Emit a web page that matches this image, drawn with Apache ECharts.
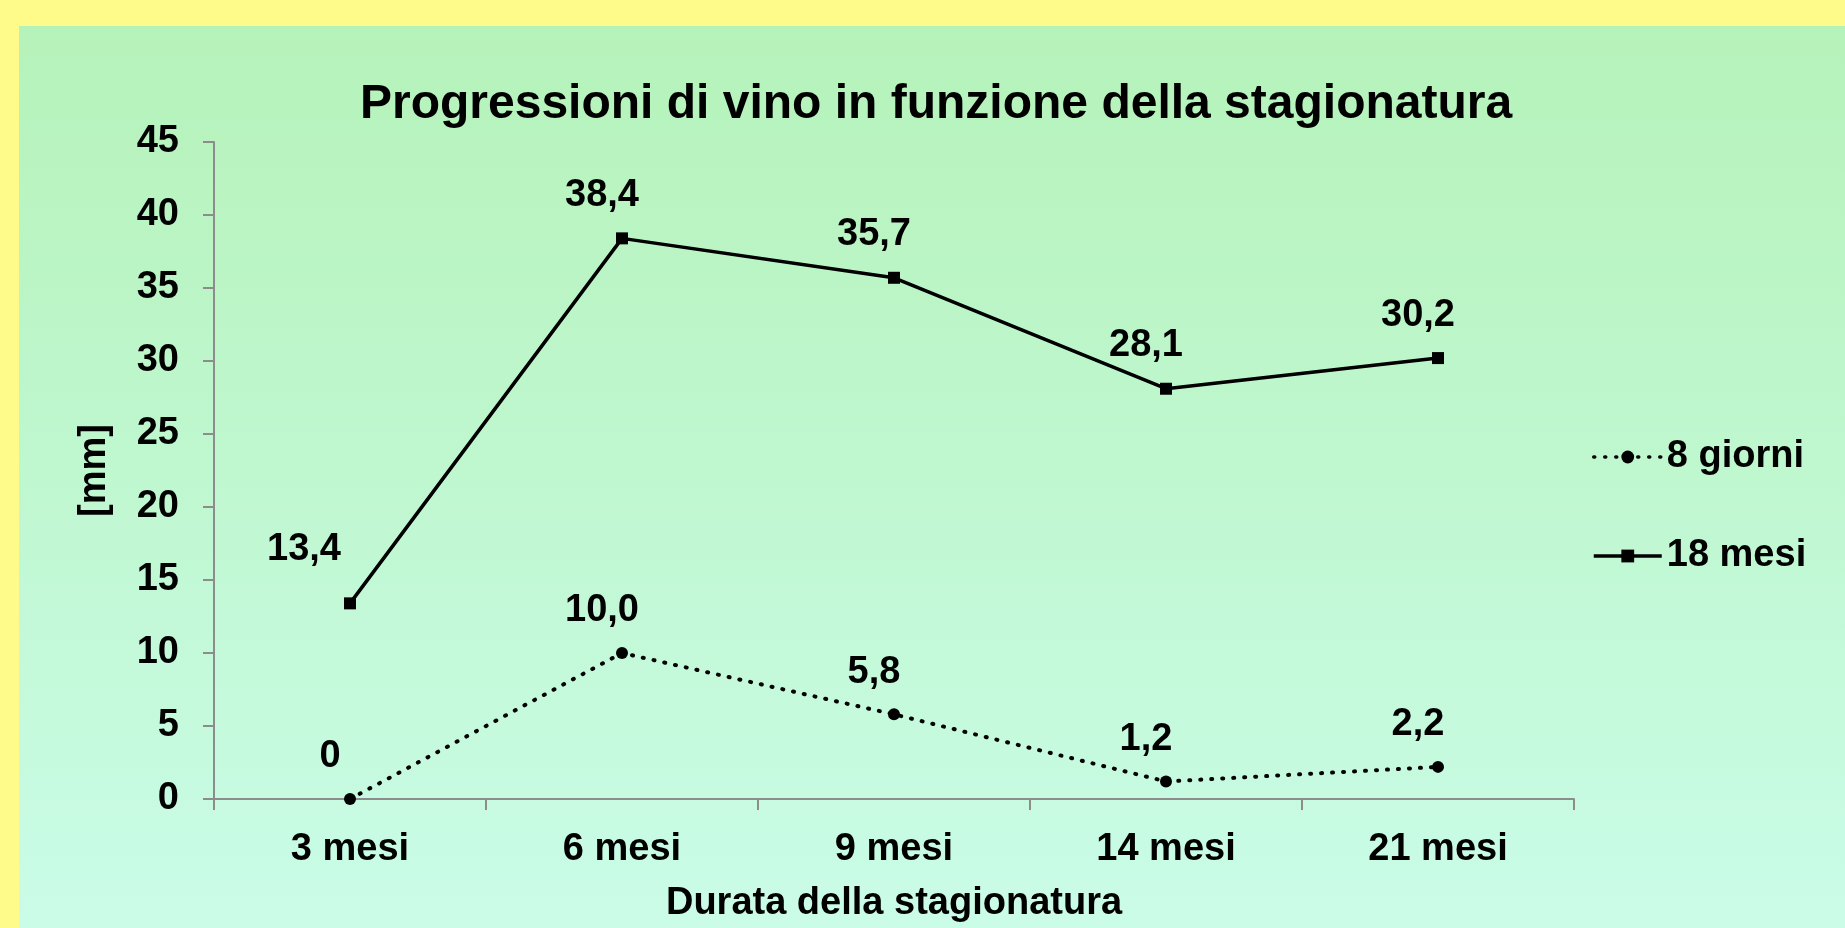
<!DOCTYPE html>
<html>
<head>
	<meta charset="utf-8">
	<title>Progressioni di vino</title>
	<script src="https://cdn.jsdelivr.net/npm/echarts@6/dist/echarts.min.js"></script>
	<style>
		html, body {
			margin: 0;
			padding: 0;
		}
		#progressioni {
			width: 1845px;
			height: 928px;
		}
	</style>
</head>
<body>
	<div id="progressioni"></div>
	<script>
		let categories = ['3 mesi', '6 mesi', '9 mesi', '14 mesi', '21 mesi']
		let giorni8 = [0, 10.0, 5.8, 1.2, 2.2]
		let mesi18 = [13.4, 38.4, 35.7, 28.1, 30.2]
		let yTicks = [0, 5, 10, 15, 20, 25, 30, 35, 40, 45]

		let font = '"Liberation Sans", Arial, sans-serif'
		let axisGrey = '#8c8c8c'

		// valori con la virgola come nel grafico originale
		function virgola(v) {
			return v === 0 ? '0' : v.toFixed(1).replace('.', ',')
		}

		function etichetta(offset) {
			return {
				show: true,
				position: 'top',
				distance: 5,
				offset: offset,
				formatter: (p) => virgola(p.value),
				color: '#000',
				fontSize: 38,
				fontWeight: 'bold',
				fontFamily: font
			}
		}

		let myChart = echarts.init(document.getElementById('progressioni'))
		myChart.setOption({
			backgroundColor: new echarts.graphic.LinearGradient(0, 0, 0, 1, [
				{ offset: 0, color: '#b5f2b8' },
				{ offset: 0.5, color: '#bff7cf' },
				{ offset: 1, color: '#cafce8' }
			]),
			graphic: [
				{ type: 'rect', left: 0, top: 0, shape: { width: 1845, height: 26 }, style: { fill: '#fefb8a' }, z: -1 },
				{ type: 'rect', left: 0, top: 0, shape: { width: 19, height: 928 }, style: { fill: '#fefb8a' }, z: -1 }
			],
			title: {
				text: 'Progressioni di vino in funzione della stagionatura',
				left: 360,
				top: 81,
				padding: 0,
				textStyle: {
					color: '#000',
					fontSize: 48,
					fontWeight: 'bold',
					fontFamily: font,
					lineHeight: 48
				}
			},
			legend: {
				orient: 'vertical',
				left: 1592,
				top: 437,
				itemWidth: 68,
				itemHeight: 16,
				itemGap: 59,
				padding: 0,
				lineStyle: { width: 3.5 },
				textStyle: {
					color: '#000',
					fontSize: 38,
					fontWeight: 'bold',
					fontFamily: font,
					lineHeight: 40
				},
				data: ['8 giorni', '18 mesi']
			},
			grid: {
				left: 214,
				right: 271,
				top: 142,
				bottom: 121,
				containLabel: false
			},
			xAxis: {
				type: 'category',
				data: categories,
				boundaryGap: true,
				name: 'Durata della stagionatura',
				nameLocation: 'middle',
				nameGap: 86,
				nameTextStyle: {
					color: '#000',
					fontSize: 38,
					fontWeight: 'bold',
					fontFamily: font
				},
				axisLine: {
					lineStyle: { color: axisGrey, width: 2 }
				},
				axisTick: {
					show: true,
					length: 11,
					lineStyle: { color: axisGrey, width: 2 }
				},
				axisLabel: {
					margin: 32,
					color: '#000',
					fontSize: 38,
					fontWeight: 'bold',
					fontFamily: font
				},
				splitLine: { show: false }
			},
			yAxis: {
				type: 'value',
				min: yTicks[0],
				max: yTicks[yTicks.length - 1],
				interval: yTicks[1] - yTicks[0],
				name: '[mm]',
				nameLocation: 'middle',
				nameGap: 100,
				nameRotate: 90,
				nameTextStyle: {
					color: '#000',
					fontSize: 38,
					fontWeight: 'bold',
					fontFamily: font
				},
				axisLine: {
					show: true,
					lineStyle: { color: axisGrey, width: 2 }
				},
				axisTick: {
					show: true,
					length: 11,
					lineStyle: { color: axisGrey, width: 2 }
				},
				axisLabel: {
					margin: 35,
					color: '#000',
					fontSize: 38,
					fontWeight: 'bold',
					fontFamily: font
				},
				splitLine: { show: false }
			},
			series: [{
				name: '8 giorni',
				type: 'line',
				data: giorni8,
				symbol: 'circle',
				symbolSize: 12,
				itemStyle: { color: '#000' },
				lineStyle: {
					color: '#000',
					width: 4,
					type: [1, 10],
					cap: 'round'
				},
				label: etichetta([-20, -12])
			}, {
				name: '18 mesi',
				type: 'line',
				data: mesi18.map((v, i) => i === 0 ? { value: v, label: { offset: [-46, -24] } } : v),
				symbol: 'rect',
				symbolSize: 12,
				itemStyle: { color: '#000' },
				lineStyle: {
					color: '#000',
					width: 3.5
				},
				label: etichetta([-20, -13])
			}]
		})
	</script>
</body>
</html>
